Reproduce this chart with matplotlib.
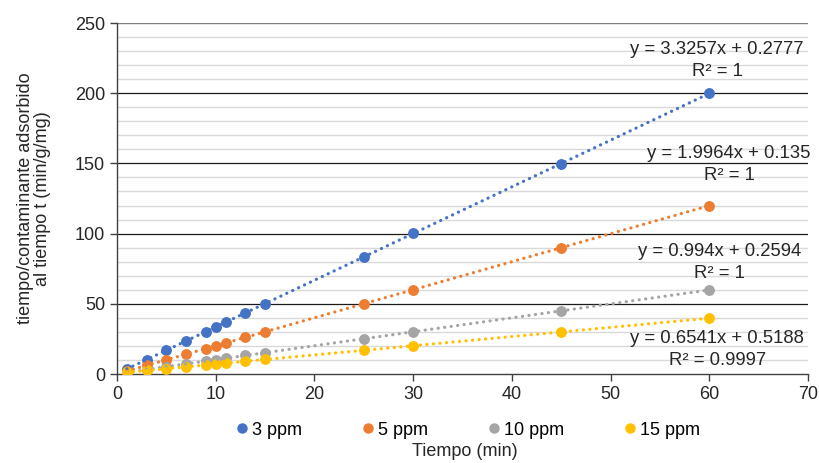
import numpy as np
import matplotlib.pyplot as plt
from matplotlib.lines import Line2D

plt.rcParams['font.family'] = ['Liberation Sans', 'DejaVu Sans']

# tiempo de contacto (min)
tiempo = [1, 3, 5, 7, 9, 10, 11, 13, 15, 25, 30, 45, 60]

# t/qt (min/g/mg) por concentracion inicial
t_qt_3ppm = [3.6, 10.3, 16.9, 23.6, 30.2, 33.5, 36.9, 43.6, 50.2, 83.4, 100.1, 149.9, 199.8]
t_qt_5ppm = [2.2, 6.1, 10.1, 14.1, 18.1, 20.1, 22.1, 26.1, 30.1, 50.0, 60.0, 90.0, 119.9]
t_qt_10ppm = [1.3, 3.2, 5.2, 7.2, 9.2, 10.2, 11.2, 13.2, 15.2, 25.1, 30.1, 45.0, 59.9]
t_qt_15ppm = [1.3, 2.6, 3.9, 5.3, 6.6, 7.1, 7.8, 9.1, 10.5, 16.8, 20.3, 30.1, 39.8]

series_labels = ['3 ppm', '5 ppm', '10 ppm', '15 ppm']
colors = ['#4472C4', '#ED7D31', '#A5A5A5', '#FFC000']

# ajuste lineal (pendiente, intercepto, R2)
slopes = [3.3257, 1.9964, 0.994, 0.6541]
intercepts = [0.2777, 0.135, 0.2594, 0.5188]
r2_labels = ['1', '1', '1', '0.9997']
eq_pos = [(60.8, 231), (62.0, 157.4), (61.0, 87), (60.8, 25.6)]

series = [t_qt_3ppm, t_qt_5ppm, t_qt_10ppm, t_qt_15ppm]

fig = plt.figure(figsize=(8.2, 4.63), dpi=100)
ax = fig.add_axes([0.1427, 0.1922, 0.8427, 0.7581])

# lineas de la cuadricula
for yv in range(10, 250, 10):
    if yv % 50:
        ax.axhline(yv, color='#D9D9D9', lw=1.0, zorder=0)
for yv in [50, 100, 150, 200]:
    ax.axhline(yv, color='#1a1a1a', lw=0.9, zorder=0.5)
ax.axhline(250, color='#7f7f7f', lw=1.0, zorder=0.5)

x = np.array(tiempo)
xf = np.array([x.min(), x.max()])
for ys, m, b, c, lab in zip(series, slopes, intercepts, colors, series_labels):
    ax.plot(x, ys, 'o', color=c, ms=6.8, zorder=3, label=lab)
    ax.plot(xf, m * xf + b, color=c, lw=2.3, ls=(0, (0.05, 2.0)),
            dash_capstyle='round', zorder=4)

for (px, py), m, b, r2 in zip(eq_pos, slopes, intercepts, r2_labels):
    ax.text(px, py, f'y = {m}x + {b}', ha='center', va='center',
            fontsize=13.3, color='#262626', zorder=5)
    ax.text(px, py - 15.7, f'R² = {r2}', ha='center', va='center',
            fontsize=13.3, color='#262626', zorder=5)

ax.set_xlim(0, 70)
ax.set_ylim(0, 250)
ax.set_xticks(range(0, 71, 10))
ax.set_yticks(range(0, 251, 50))
ax.tick_params(axis='both', labelsize=13, colors='#404040', labelcolor='#262626',
               length=5, width=1, direction='out')
for s in ['top', 'right']:
    ax.spines[s].set_visible(False)
for s in ['left', 'bottom']:
    ax.spines[s].set_color('#404040')
    ax.spines[s].set_linewidth(1)

ax.set_ylabel('tiempo/contaminante adsorbido\nal tiempo t (min/g/mg)',
              fontsize=13, color='#262626', labelpad=17, linespacing=1.05)

handles = [Line2D([], [], marker='o', ls='none', color=c, ms=6.5) for c in colors]
fig.legend(handles, series_labels, loc='center', bbox_to_anchor=(0.568, 0.071),
           ncol=4, frameon=False, fontsize=13, handletextpad=0.0,
           columnspacing=3.1, handlelength=1.1)
fig.text(0.567, 0.024, 'Tiempo (min)', ha='center', va='center',
         fontsize=13, color='#262626')

fig.savefig('out.png', dpi=100)
